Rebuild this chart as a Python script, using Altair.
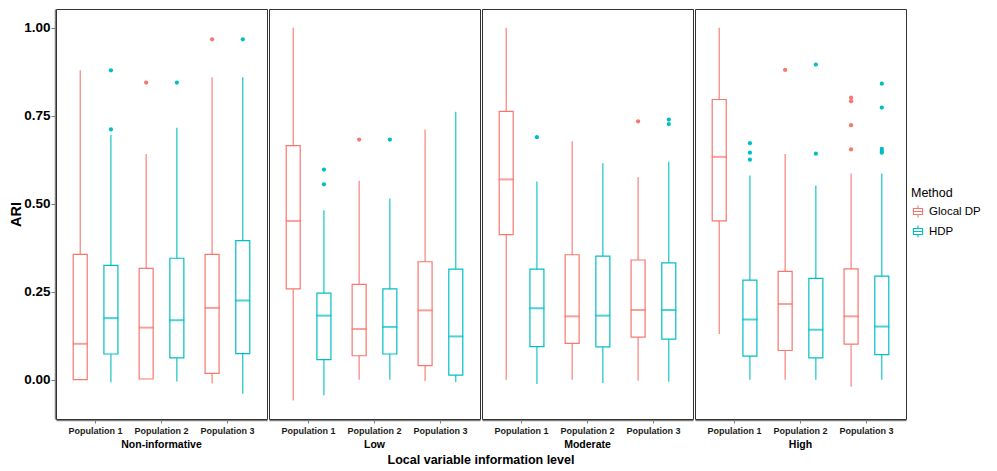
import altair as alt
import pandas as pd

levels = ["Non-informative", "Low", "Moderate", "High"]
pops = ["Population 1", "Population 2", "Population 3"]
methods = ["Glocal DP", "HDP"]
colors = ["#F8766D", "#00BFC4"]

# order: level -> population -> method
lower = [0.000, -0.007, 0.002, -0.005, -0.011, -0.040,
         -0.059, -0.044, 0.000, 0.000, -0.004, -0.007,
         0.000, -0.012, 0.000, -0.009, -0.003, -0.006,
         0.130, 0.000, 0.000, 0.000, -0.020, 0.000]
q1 = [0.000, 0.073, 0.002, 0.062, 0.018, 0.074,
      0.258, 0.057, 0.068, 0.073, 0.040, 0.013,
      0.412, 0.094, 0.103, 0.093, 0.121, 0.115,
      0.451, 0.067, 0.083, 0.062, 0.101, 0.071]
median = [0.102, 0.175, 0.148, 0.169, 0.204, 0.225,
          0.451, 0.182, 0.144, 0.150, 0.197, 0.123,
          0.569, 0.203, 0.180, 0.182, 0.198, 0.198,
          0.633, 0.171, 0.215, 0.142, 0.180, 0.151]
q3 = [0.356, 0.325, 0.316, 0.345, 0.356, 0.395,
      0.665, 0.246, 0.271, 0.258, 0.335, 0.314,
      0.762, 0.314, 0.355, 0.351, 0.340, 0.332,
      0.796, 0.283, 0.308, 0.288, 0.315, 0.294]
upper = [0.879, 0.696, 0.641, 0.716, 0.859, 0.859,
         1.000, 0.481, 0.565, 0.515, 0.711, 0.761,
         1.000, 0.563, 0.677, 0.615, 0.576, 0.619,
         1.000, 0.580, 0.641, 0.552, 0.586, 0.586]

out_level = ["Non-informative"] * 6 + ["Low"] * 4 + ["Moderate"] * 4 + ["High"] * 15
out_pop = (["Population 1"] * 2 + ["Population 2"] * 2 + ["Population 3"] * 2
           + ["Population 1"] * 2 + ["Population 2"] * 2
           + ["Population 1"] + ["Population 3"] * 3
           + ["Population 1"] * 3 + ["Population 2"] * 3 + ["Population 3"] * 9)
out_method = (["HDP", "HDP", "Glocal DP", "HDP", "Glocal DP", "HDP"]
              + ["HDP", "HDP", "Glocal DP", "HDP"]
              + ["HDP", "Glocal DP", "HDP", "HDP"]
              + ["HDP"] * 3 + ["Glocal DP", "HDP", "HDP"]
              + ["Glocal DP"] * 4 + ["HDP"] * 5)
out_value = ([0.879, 0.711, 0.844, 0.844, 0.967, 0.967]
             + [0.597, 0.555, 0.682, 0.682]
             + [0.689, 0.734, 0.739, 0.726]
             + [0.672, 0.645, 0.625, 0.880, 0.895, 0.642]
             + [0.801, 0.791, 0.723, 0.654, 0.841, 0.773, 0.656, 0.650, 0.645])

rows = []
i = 0
for lv in levels:
    for p in pops:
        for m in methods:
            rows.append(dict(level=lv, pop=p, method=m, kind="box",
                             lower=lower[i], q1=q1[i], median=median[i],
                             q3=q3[i], upper=upper[i]))
            i += 1
for lv, p, m, v in zip(out_level, out_pop, out_method, out_value):
    rows.append(dict(level=lv, pop=p, method=m, kind="out", value=v))
df = pd.DataFrame(rows)

FONT = "Liberation Sans"
ysc = alt.Scale(domain=[-0.1116, 1.053], nice=False, zero=False)
cscale = alt.Scale(domain=methods, range=colors)
glyph = "M-0.75,-0.5H0.75V0.5H-0.75Z M-0.75,0H0.75 M0,-0.5V-1 M0,0.5V1"
leg = alt.Legend(title="Method", symbolType=glyph, symbolSize=150,
                 symbolStrokeWidth=1.1, symbolFillColor="#ffffff",
                 titleFontSize=12.5, titleFontWeight="normal",
                 labelFontSize=11.5, titleFont=FONT, labelFont=FONT,
                 labelColor="#000000", titleColor="#000000", rowPadding=2,
                 orient="none", legendX=855, legendY=178)

xenc = alt.X("pop:N", sort=pops, title=None,
             scale=alt.Scale(paddingInner=0, paddingOuter=0.1),
             axis=alt.Axis(labelAngle=0, labelFontSize=9, labelFontWeight="bold",
                           labelColor="#1a1a1a", labelFont=FONT, tickColor="#7f7f7f",
                           domainColor="#7f7f7f", domainWidth=1.5, tickSize=3,
                           labelPadding=3))
xoff = alt.XOffset("method:N", sort=methods,
                   scale=alt.Scale(paddingInner=0, paddingOuter=0.0735))
yaxis = alt.Axis(values=[0, 0.25, 0.5, 0.75, 1.0], format=".2f", grid=False,
                 labelFontSize=13.5, labelFontWeight="bold", labelColor="#000000",
                 labelFont=FONT, titleFont=FONT, titleFontSize=14.5,
                 titleFontWeight="bold", titleColor="#000000", tickColor="#7f7f7f",
                 domainColor="#7f7f7f", domainWidth=1.5, tickSize=4, labelPadding=1,
                 titlePadding=0)

stroke_enc = alt.Stroke("method:N", scale=cscale, legend=leg, sort=methods)
fill_cond = alt.condition(alt.datum.method == methods[1],
                          alt.value(colors[1]), alt.value(colors[0]))

base = alt.Chart().transform_filter(alt.datum.kind == "box")

wlow = base.mark_rule(strokeWidth=1.1).encode(
    x=xenc, xOffset=xoff,
    y=alt.Y("lower:Q", scale=ysc, axis=yaxis, title="ARI"),
    y2="q1:Q", stroke=stroke_enc)
whigh = base.mark_rule(strokeWidth=1.1).encode(
    x=xenc, xOffset=xoff,
    y=alt.Y("q3:Q", scale=ysc, axis=yaxis, title="ARI"),
    y2="upper:Q", stroke=stroke_enc)
box = base.mark_bar(filled=False, size=14, strokeWidth=1.2).encode(
    x=xenc, xOffset=xoff,
    y=alt.Y("q1:Q", scale=ysc, axis=yaxis, title="ARI"),
    y2="q3:Q", stroke=stroke_enc)
med = base.mark_tick(orient="horizontal", size=15, thickness=2).encode(
    x=xenc, xOffset=xoff,
    y=alt.Y("median:Q", scale=ysc, axis=yaxis, title="ARI"),
    fill=fill_cond)
outl = alt.Chart().transform_filter(alt.datum.kind == "out").mark_circle(
    size=18, opacity=1).encode(
    x=xenc, xOffset=xoff,
    y=alt.Y("value:Q", scale=ysc, axis=yaxis, title="ARI"),
    fill=fill_cond)

layered = alt.layer(box, wlow, whigh, med, outl, data=df).properties(
    width=211, height=410)

chart = layered.facet(
    column=alt.Column("level:N", sort=levels,
                      title="Local variable information level",
                      header=alt.Header(labelOrient="bottom", titleOrient="bottom",
                                        labelFontSize=10.5, labelFontWeight="bold",
                                        labelFont=FONT, labelColor="#000000",
                                        titleFont=FONT, titleFontSize=12.5,
                                        titleFontWeight="bold", titleColor="#000000",
                                        labelPadding=5, titlePadding=-7)),
    spacing=0,
).properties(padding={"left": 0, "top": 0, "right": 0, "bottom": 0}).configure_view(
    stroke="#333333", strokeWidth=1).configure_axis(grid=False)

chart.save("out.html", embed_options={"renderer": "svg", "actions": False})
